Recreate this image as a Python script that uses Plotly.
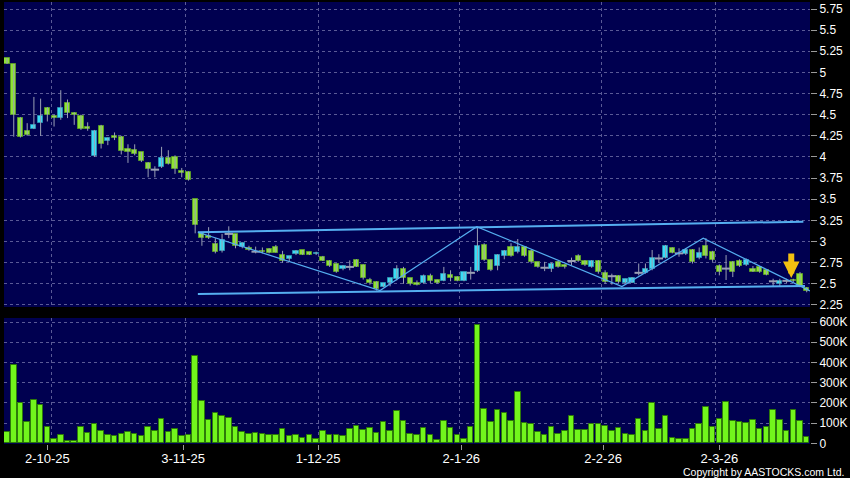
import plotly.graph_objects as go

# ---------------- data ----------------
bar_index = list(range(120))
open_ = [5.17, 5.10, 4.46, 4.31, 4.335, 4.40, 4.575, 4.49, 4.46, 4.635,
         4.52, 4.49, 4.35, 4.015, 4.37, 4.185, 4.25, 4.24, 4.095, 4.08,
         4.055, 3.93, 3.85, 3.885, 3.985, 3.995, 3.835, 3.825, 3.50, 3.105,
         3.066, 2.97, 2.89, 3.09, 3.085, 2.93, 2.92, 2.88, 2.89, 2.91,
         2.93, 2.84, 2.797, 2.85, 2.897, 2.875, 2.85, 2.82, 2.77, 2.735,
         2.67, 2.70, 2.78, 2.72, 2.545, 2.52, 2.465, 2.505, 2.557, 2.68,
         2.565, 2.51, 2.505, 2.592, 2.545, 2.535, 2.61, 2.58, 2.537, 2.63,
         2.65, 2.96, 2.78, 2.71, 2.83, 2.93, 2.88, 2.93, 2.89, 2.755,
         2.69, 2.67, 2.76, 2.72, 2.77, 2.83, 2.77, 2.70, 2.77, 2.625,
         2.59, 2.59, 2.515, 2.515, 2.63, 2.63, 2.67, 2.80, 2.81, 2.92,
         2.86, 2.85, 2.90, 2.80, 2.95, 2.88, 2.71, 2.68, 2.76, 2.775,
         2.72, 2.675, 2.70, 2.66, 2.53, 2.50, 2.535, 2.54, 2.62, 2.455]
high = [5.17, 5.10, 4.47, 4.40, 4.71, 4.69, 4.59, 4.50, 4.79, 4.68,
        4.53, 4.50, 4.41, 4.32, 4.38, 4.23, 4.29, 4.25, 4.15, 4.15,
        4.06, 3.94, 3.89, 4.12, 4.08, 4.02, 3.87, 3.83, 3.50, 3.11,
        3.17, 3.04, 3.09, 3.18, 3.09, 2.99, 2.95, 2.94, 2.93, 2.92,
        2.96, 2.89, 2.83, 2.90, 2.90, 2.88, 2.88, 2.83, 2.78, 2.74,
        2.72, 2.777, 2.79, 2.73, 2.57, 2.53, 2.51, 2.57, 2.72, 2.70,
        2.57, 2.54, 2.61, 2.62, 2.55, 2.70, 2.66, 2.59, 2.64, 2.70,
        3.175, 2.98, 2.79, 2.85, 2.90, 2.98, 3.03, 2.94, 2.90, 2.76,
        2.76, 2.75, 2.77, 2.73, 2.81, 2.85, 2.78, 2.78, 2.78, 2.66,
        2.62, 2.60, 2.56, 2.58, 2.74, 2.74, 2.90, 2.85, 2.96, 2.93,
        2.92, 2.92, 2.91, 2.93, 3.04, 2.89, 2.73, 2.84, 2.77, 2.79,
        2.80, 2.71, 2.71, 2.67, 2.56, 2.56, 2.56, 2.56, 2.64, 2.46]
low = [5.10, 4.24, 4.23, 4.25, 4.33, 4.25, 4.42, 4.36, 4.44, 4.46,
       4.38, 4.32, 4.31, 4.00, 4.10, 4.14, 4.20, 4.03, 3.93, 4.02,
       3.94, 3.76, 3.76, 3.87, 3.91, 3.80, 3.76, 3.72, 3.097, 2.95,
       3.03, 2.86, 2.87, 3.04, 2.92, 2.92, 2.89, 2.86, 2.86, 2.86,
       2.87, 2.75, 2.76, 2.84, 2.84, 2.84, 2.84, 2.77, 2.70, 2.63,
       2.66, 2.66, 2.70, 2.55, 2.49, 2.42, 2.46, 2.47, 2.54, 2.50,
       2.48, 2.48, 2.50, 2.51, 2.50, 2.53, 2.53, 2.53, 2.53, 2.55,
       2.64, 2.77, 2.65, 2.66, 2.79, 2.82, 2.86, 2.82, 2.74, 2.69,
       2.65, 2.64, 2.69, 2.68, 2.72, 2.76, 2.71, 2.69, 2.62, 2.50,
       2.49, 2.51, 2.50, 2.51, 2.60, 2.62, 2.66, 2.75, 2.80, 2.86,
       2.82, 2.84, 2.74, 2.79, 2.80, 2.76, 2.60, 2.545, 2.58, 2.70,
       2.71, 2.64, 2.63, 2.60, 2.47, 2.47, 2.51, 2.52, 2.46, 2.40]
close = [5.10, 4.50, 4.24, 4.26, 4.375, 4.49, 4.50, 4.46, 4.575, 4.52,
         4.50, 4.33, 4.33, 4.31, 4.15, 4.225, 4.22, 4.07, 4.055, 4.03,
         3.95, 3.86, 3.85, 3.985, 3.92, 3.855, 3.81, 3.73, 3.19, 3.04,
         3.04, 2.88, 3.02, 3.09, 2.95, 2.98, 2.90, 2.88, 2.875, 2.87,
         2.87, 2.77, 2.825, 2.89, 2.84, 2.84, 2.87, 2.77, 2.707, 2.64,
         2.71, 2.70, 2.70, 2.565, 2.51, 2.44, 2.505, 2.565, 2.672, 2.565,
         2.495, 2.487, 2.592, 2.537, 2.51, 2.617, 2.565, 2.537, 2.635, 2.63,
         2.95, 2.78, 2.66, 2.84, 2.89, 2.83, 2.93, 2.83, 2.76, 2.70,
         2.69, 2.74, 2.70, 2.695, 2.77, 2.775, 2.72, 2.77, 2.64, 2.525,
         2.59, 2.525, 2.555, 2.565, 2.63, 2.67, 2.80, 2.80, 2.95, 2.87,
         2.86, 2.90, 2.76, 2.86, 2.83, 2.78, 2.635, 2.68, 2.64, 2.715,
         2.78, 2.645, 2.64, 2.61, 2.53, 2.53, 2.535, 2.53, 2.47, 2.42]
volume = [54, 387, 199, 107, 217, 191, 82, 20, 41, 10,
          10, 79, 53, 94, 61, 44, 38, 49, 56, 46,
          38, 82, 61, 122, 58, 71, 38, 44, 431, 212,
          117, 148, 137, 127, 79, 58, 46, 51, 48, 43,
          44, 71, 36, 44, 28, 41, 20, 61, 41, 43,
          38, 71, 86, 67, 76, 51, 104, 61, 160, 113,
          49, 43, 74, 43, 18, 110, 74, 43, 23, 82,
          584, 169, 105, 164, 151, 110, 252, 99, 94, 56,
          44, 82, 46, 61, 135, 66, 66, 97, 97, 86,
          63, 74, 48, 43, 123, 61, 202, 72, 135, 28,
          20, 20, 72, 97, 181, 82, 120, 207, 109, 107,
          102, 115, 71, 79, 163, 115, 61, 164, 110, 30]
volume = [v * 1000 for v in volume]

date_tick_pos = [6.0, 26.2, 46.3, 67.6, 88.7, 106.0]
date_tick_text = ["2-10-25", "3-11-25", "1-12-25", "2-1-26", "2-2-26", "2-3-26"]
date_grid_pos = [6.6, 26.5, 46.4, 67.4, 88.4, 105.4]

price_ticks = [2.25, 2.5, 2.75, 3.0, 3.25, 3.5, 3.75, 4.0, 4.25, 4.5, 4.75, 5.0, 5.25, 5.5, 5.75]
price_tick_text = ["2.25", "2.5", "2.75", "3", "3.25", "3.5", "3.75", "4", "4.25", "4.5",
                   "4.75", "5", "5.25", "5.5", "5.75"]
vol_ticks = [0, 100000, 200000, 300000, 400000, 500000, 600000]
vol_tick_text = ["0", "100K", "200K", "300K", "400K", "500K", "600K"]

# drawn trend lines (index, price)
upper_x = [28.4, 118.5]
upper_y = [3.11, 3.235]
lower_x = [28.4, 118.75]
lower_y = [2.38, 2.475]
zig_x = [28.4, 55.5, 69.9, 91.5, 103.6, 119.5]
zig_y = [3.11, 2.42, 3.176, 2.467, 3.039, 2.415]
arrow_x = 116.7
arrow_tip = 2.57

# ---------------- styling ----------------
NAVY = "#000050"
GRID = "#5a5a96"
UP_FILL, UP_LINE = "#38dcf6", "#2a8fb0"
DN_FILL, DN_LINE = "#8ee234", "#5a9a2a"
WICK = "#9aa0b4"
TREND = "#55aef0"
FONT = "Liberation Sans"

body_base, body_h, body_fill, body_line = [], [], [], []
body_x = []
doji_x, doji_y = [], []
for i, o, c in zip(bar_index, open_, close):
    if c == o:
        doji_x.append(i)
        doji_y.append(c)
        continue
    body_x.append(i)
    body_base.append(min(o, c))
    body_h.append(abs(c - o))
    body_fill.append(UP_FILL if c > o else DN_FILL)
    body_line.append(UP_LINE if c > o else DN_LINE)

wick_x, wick_y = [], []
for i, h, l in zip(bar_index, high, low):
    wick_x += [i, i, None]
    wick_y += [l, h, None]

fig = go.Figure()
fig.add_trace(go.Scatter(x=wick_x, y=wick_y, mode="lines",
                         line=dict(color=WICK, width=1), xaxis="x", yaxis="y",
                         hoverinfo="skip", showlegend=False))
fig.add_trace(go.Bar(x=body_x, y=body_h, base=body_base, width=0.76,
                     marker=dict(color=body_fill, line=dict(color=body_line, width=1)),
                     xaxis="x", yaxis="y", showlegend=False))
fig.add_trace(go.Scatter(x=doji_x, y=doji_y, mode="markers",
                         marker=dict(symbol="line-ew", size=6,
                                     line=dict(color=WICK, width=2)),
                         xaxis="x", yaxis="y", showlegend=False))
fig.add_trace(go.Scatter(x=upper_x, y=upper_y, mode="lines",
                         line=dict(color=TREND, width=2), xaxis="x", yaxis="y",
                         showlegend=False))
fig.add_trace(go.Scatter(x=lower_x, y=lower_y, mode="lines",
                         line=dict(color=TREND, width=2), xaxis="x", yaxis="y",
                         showlegend=False))
fig.add_trace(go.Scatter(x=zig_x, y=zig_y, mode="lines",
                         line=dict(color=TREND, width=1.2), xaxis="x", yaxis="y",
                         showlegend=False))
fig.add_trace(go.Bar(x=bar_index, y=volume, width=0.82,
                     marker=dict(color="#72f51c", line=dict(color="#2e7a0a", width=1)),
                     xaxis="x2", yaxis="y2", showlegend=False))

xr = [-0.45, 119.49]
fig.update_layout(
    width=850, height=478,
    margin=dict(l=4, r=40, t=2, b=34, autoexpand=False),
    paper_bgcolor="#000000", plot_bgcolor=NAVY,
    bargap=0, barmode="overlay",
    font=dict(family=FONT, color="#ffffff", size=12),
    xaxis=dict(domain=[0, 1], anchor="y", range=xr, tickmode="array",
               tickvals=date_grid_pos, showticklabels=False, ticks="",
               showgrid=True, gridcolor=GRID, griddash="3px,3px", gridwidth=1,
               zeroline=False, showline=False),
    yaxis=dict(domain=[0.31, 1], anchor="x", side="right", range=[2.226, 5.833],
               tickmode="array", tickvals=price_ticks, ticktext=price_tick_text,
               ticks="outside", ticklen=6, tickcolor="#9a9a9a",
               tickfont=dict(family=FONT, size=12, color="#ffffff"),
               showgrid=True, gridcolor=GRID, griddash="3px,3px", gridwidth=1,
               zeroline=False, showline=False),
    xaxis2=dict(domain=[0, 1], anchor="y2", range=xr, tickmode="array",
                tickvals=date_tick_pos, ticktext=date_tick_text,
                ticks="outside", ticklen=5, tickcolor="#9a9a9a",
                ticklabelstandoff=-3,
                tickfont=dict(family=FONT, size=13, color="#ffffff"),
                showgrid=False, zeroline=False, showline=False,
                minor=dict(tickmode="array", tickvals=date_grid_pos, ticks="",
                           showgrid=True, gridcolor=GRID, griddash="3px,3px",
                           gridwidth=1)),
    yaxis2=dict(domain=[0, 0.2851], anchor="x2", side="right", range=[-3000, 620000],
                tickmode="array", tickvals=vol_ticks, ticktext=vol_tick_text,
                ticks="outside", ticklen=6, tickcolor="#9a9a9a",
                tickfont=dict(family=FONT, size=12, color="#ffffff"),
                showgrid=True, gridcolor=GRID, griddash="3px,3px", gridwidth=1,
                zeroline=False, showline=False),
)

fig.add_annotation(x=arrow_x, y=arrow_tip, xref="x", yref="y", ax=0, ay=-26,
                   showarrow=True, arrowhead=2, arrowsize=0.55, arrowwidth=6,
                   arrowcolor="#f3c010", text="")
fig.add_annotation(x=1.0447, y=-0.064, xref="paper", yref="paper",
                   xanchor="right", yanchor="middle", showarrow=False,
                   text="Copyright by AASTOCKS.com Ltd.",
                   font=dict(family=FONT, size=10.5, color="#ffffff"))

fig.write_html("out.html",
               config={"displayModeBar": False},
               post_script="document.body.style.margin='0';"
                           "document.body.style.padding='0';"
                           "document.documentElement.style.overflow='hidden';")
